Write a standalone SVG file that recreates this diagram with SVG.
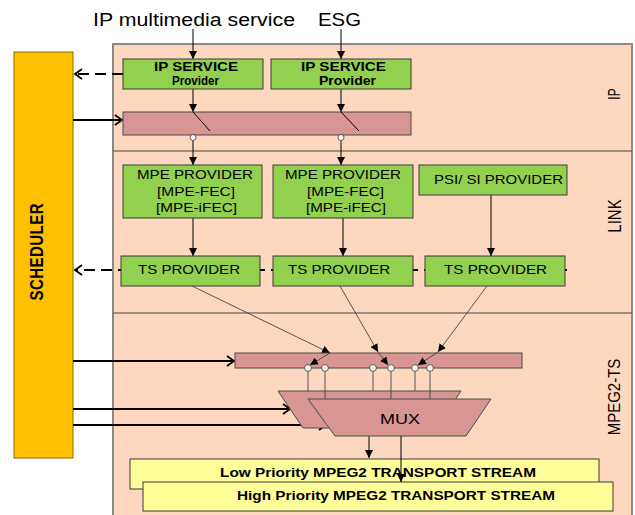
<svg xmlns="http://www.w3.org/2000/svg" width="635" height="515" viewBox="0 0 635 515">
<defs>
<style>
.t{font-family:"Liberation Sans",Arial,sans-serif;fill:#000}
.b{font-weight:bold}
.green{fill:#92D050;stroke:#3a3a3a;stroke-width:1}
.pink{fill:#D99594;stroke:#4a4a4a;stroke-width:1}
.yel{fill:#FFFF99;stroke:#3a3a3a;stroke-width:1}
.ln{stroke:#000;stroke-width:1;fill:none}
.thin{stroke:#333;stroke-width:0.8;fill:none}
.sch{stroke:#000;stroke-width:1.8;fill:none}
.dash{stroke:#000;stroke-width:2;fill:none;stroke-dasharray:11 6}
.div{stroke:#444;stroke-width:1}
</style>
<marker id="fa" markerUnits="userSpaceOnUse" markerWidth="10" markerHeight="10" refX="8" refY="4" orient="auto">
<path d="M0,0 L8,4 L0,8 z" fill="#000"/>
</marker>
<marker id="oa" markerUnits="userSpaceOnUse" markerWidth="12" markerHeight="14" refX="8" refY="6" orient="auto">
<path d="M1,1 L8,6 L1,11" fill="none" stroke="#000" stroke-width="1.8"/>
</marker>
</defs>

<rect width="635" height="515" fill="#fff"/>

<g id="layers">
<rect x="113" y="44" width="519" height="480" fill="#FDD8BE" stroke="#8a8a8a" stroke-width="2"/>
<line class="div" x1="113" y1="151" x2="632" y2="151"/>
<line class="div" x1="113" y1="313" x2="632" y2="313"/>
<text class="t" font-size="12" transform="translate(620,94) scale(1.4,1) rotate(-90)" text-anchor="middle">IP</text>
<text class="t" font-size="15" transform="translate(621,216) scale(1.25,1) rotate(-90)" text-anchor="middle">LINK</text>
<text class="t" font-size="15" transform="translate(620,397) scale(1.15,1) rotate(-90)" text-anchor="middle">MPEG2-TS</text>
</g>

<g id="scheduler">
<rect x="14" y="52" width="59" height="406" fill="#FFC000" stroke="#8a6a00" stroke-width="1"/>
<text class="t b" font-size="15" transform="translate(43,252) scale(1.2,1) rotate(-90)" text-anchor="middle" textLength="97">SCHEDULER</text>
</g>

<g id="labels">
<text class="t" font-size="18" x="93" y="26" textLength="202" lengthAdjust="spacingAndGlyphs">IP multimedia service</text>
<text class="t" font-size="18" x="318" y="26" textLength="43" lengthAdjust="spacingAndGlyphs">ESG</text>
</g>

<g id="connectors">
<!-- dashed to scheduler -->
<line class="dash" x1="123" y1="74" x2="75" y2="74" marker-end="url(#oa)"/>
<line class="dash" x1="567" y1="270" x2="75" y2="270" marker-end="url(#oa)" stroke-dashoffset="4"/>
<!-- scheduler outputs -->
<line class="sch" x1="73" y1="120" x2="122" y2="120" marker-end="url(#oa)"/>
<line class="sch" x1="73" y1="361" x2="234" y2="361" marker-end="url(#oa)"/>
<line class="sch" x1="73" y1="409" x2="290" y2="409" marker-end="url(#oa)"/>
<line class="sch" x1="73" y1="425" x2="326" y2="425" marker-end="url(#oa)"/>
<!-- inputs -->
<line class="ln" x1="193" y1="29" x2="193" y2="59" marker-end="url(#fa)"/>
<line class="ln" x1="341" y1="29" x2="341" y2="59" marker-end="url(#fa)"/>
<line class="ln" x1="193" y1="89" x2="193" y2="112" marker-end="url(#fa)"/>
<line class="ln" x1="341" y1="89" x2="341" y2="112" marker-end="url(#fa)"/>
<line class="ln" x1="193" y1="141" x2="193" y2="165" marker-end="url(#fa)"/>
<line class="ln" x1="341" y1="141" x2="341" y2="165" marker-end="url(#fa)"/>
<line class="ln" x1="193" y1="218" x2="193" y2="256" marker-end="url(#fa)"/>
<line class="ln" x1="343" y1="218" x2="343" y2="256" marker-end="url(#fa)"/>
<line class="ln" x1="491" y1="195" x2="491" y2="256" marker-end="url(#fa)"/>
<!-- TS to MPEG2-TS bus -->
<line class="thin" x1="192" y1="286" x2="330" y2="353" marker-end="url(#fa)"/>
<line class="thin" x1="340" y1="286" x2="378" y2="352" marker-end="url(#fa)"/>
<line class="thin" x1="487" y1="286" x2="438" y2="352" marker-end="url(#fa)"/>
<!-- mux outputs -->
<line class="ln" x1="369" y1="436" x2="369" y2="458" marker-end="url(#fa)"/>
</g>

<g id="ip-service-1">
<rect class="green" x="123" y="59" width="140" height="30"/>
<text class="t b" font-size="13" x="154" y="71" textLength="84" lengthAdjust="spacingAndGlyphs">IP SERVICE</text>
<text class="t b" font-size="13" x="172" y="85" textLength="47" lengthAdjust="spacingAndGlyphs">Provider</text>
</g>
<g id="ip-service-2">
<rect class="green" x="271" y="59" width="140" height="30"/>
<text class="t b" font-size="13" x="301" y="71" textLength="85" lengthAdjust="spacingAndGlyphs">IP SERVICE</text>
<text class="t b" font-size="13" x="319" y="85" textLength="57" lengthAdjust="spacingAndGlyphs">Provider</text>
</g>

<g id="ip-bus">
<rect class="pink" x="123" y="112" width="288" height="23"/>
<line class="ln" x1="193" y1="112" x2="210" y2="131"/>
<line class="ln" x1="341" y1="112" x2="359" y2="131"/>
<circle cx="193" cy="137.5" r="3" fill="#fff" stroke="#333" stroke-width="0.8"/>
<circle cx="341" cy="137.5" r="3" fill="#fff" stroke="#333" stroke-width="0.8"/>
</g>

<g id="mpe-provider-1">
<rect class="green" x="123" y="165" width="139" height="53"/>
<text class="t" font-size="13" x="137" y="179" textLength="116" lengthAdjust="spacingAndGlyphs">MPE PROVIDER</text>
<text class="t" font-size="13" x="157" y="196" textLength="78" lengthAdjust="spacingAndGlyphs">[MPE-FEC]</text>
<text class="t" font-size="13" x="156" y="212" textLength="81" lengthAdjust="spacingAndGlyphs">[MPE-iFEC]</text>
</g>
<g id="mpe-provider-2">
<rect class="green" x="273" y="165" width="140" height="53"/>
<text class="t" font-size="13" x="285" y="179" textLength="116" lengthAdjust="spacingAndGlyphs">MPE PROVIDER</text>
<text class="t" font-size="13" x="307" y="196" textLength="77" lengthAdjust="spacingAndGlyphs">[MPE-FEC]</text>
<text class="t" font-size="13" x="306" y="212" textLength="80" lengthAdjust="spacingAndGlyphs">[MPE-iFEC]</text>
</g>
<g id="psi-si-provider">
<rect class="green" x="419" y="165" width="148" height="30"/>
<text class="t" font-size="13" x="434" y="184" textLength="129" lengthAdjust="spacingAndGlyphs">PSI/ SI PROVIDER</text>
</g>

<g id="ts-provider-1">
<rect class="green" x="121" y="256" width="139" height="30"/>
<text class="t" font-size="13" x="138" y="274" textLength="102" lengthAdjust="spacingAndGlyphs">TS PROVIDER</text>
</g>
<g id="ts-provider-2">
<rect class="green" x="273" y="256" width="140" height="30"/>
<text class="t" font-size="13" x="288" y="274" textLength="102" lengthAdjust="spacingAndGlyphs">TS PROVIDER</text>
</g>
<g id="ts-provider-3">
<rect class="green" x="425" y="256" width="140" height="30"/>
<text class="t" font-size="13" x="444" y="274" textLength="103" lengthAdjust="spacingAndGlyphs">TS PROVIDER</text>
</g>

<g id="ts-bus">
<rect class="pink" x="235" y="353" width="287" height="15"/>
<line class="thin" x1="330" y1="353" x2="310" y2="365" marker-end="url(#fa)"/>
<line class="thin" x1="378" y1="352" x2="388" y2="365" marker-end="url(#fa)"/>
<line class="thin" x1="438" y1="352" x2="418" y2="365" marker-end="url(#fa)"/>
<g fill="#fff" stroke="#333" stroke-width="0.8">
<circle cx="308" cy="368" r="3.4"/>
<circle cx="325" cy="368" r="3.4"/>
<circle cx="373" cy="368" r="3.4"/>
<circle cx="391" cy="368" r="3.4"/>
<circle cx="415" cy="368" r="3.4"/>
<circle cx="430" cy="368" r="3.4"/>
</g>
<g class="thin">
<line x1="308" y1="371.5" x2="308" y2="391"/>
<line x1="373" y1="371.5" x2="373" y2="391"/>
<line x1="415" y1="371.5" x2="415" y2="391"/>
</g>
</g>

<g id="mux">
<polygon class="pink" points="278,391 461,391 436,428 303,428"/>
<g class="thin">
<line x1="325" y1="371.5" x2="325" y2="399"/>
<line x1="391" y1="371.5" x2="391" y2="399"/>
<line x1="430" y1="371.5" x2="430" y2="399"/>
</g>
<polygon class="pink" points="308,399 491,399 466,436 335,436"/>
<text class="t" font-size="15" x="380" y="424" textLength="40" lengthAdjust="spacingAndGlyphs">MUX</text>
</g>

<g id="low-priority-ts">
<rect class="yel" x="130" y="459" width="469" height="30"/>
<text class="t b" font-size="12.5" x="220" y="477" textLength="316" lengthAdjust="spacingAndGlyphs">Low Priority MPEG2  TRANSPORT STREAM</text>
</g>
<g id="high-priority-ts">
<rect class="yel" x="143" y="482" width="470" height="29"/>
<text class="t b" font-size="12.5" x="237" y="500" textLength="318" lengthAdjust="spacingAndGlyphs">High Priority MPEG2 TRANSPORT STREAM</text>
</g>

<g id="connectors-top">
<line class="ln" x1="401" y1="436" x2="401" y2="482" marker-end="url(#fa)"/>
</g>
</svg>
